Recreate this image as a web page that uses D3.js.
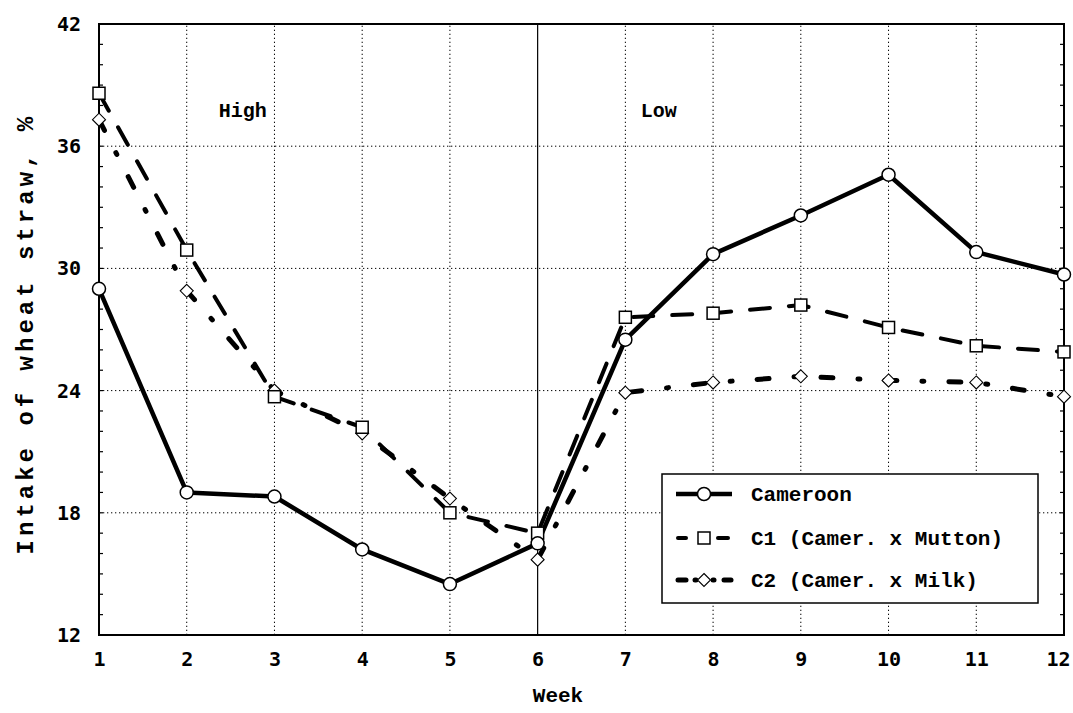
<!DOCTYPE html>
<html>
<head>
<meta charset="utf-8">
<script src="https://cdn.jsdelivr.net/npm/d3@7"></script>
<style>
  body { margin: 0; background: #fff; }
  text { font-family: "Liberation Mono", "Courier New", monospace; font-weight: bold; fill: #000; }
</style>
</head>
<body>
<svg id="chart"></svg>
<script>
// semanas e valores
const weeks = [1, 2, 3, 4, 5, 6, 7, 8, 9, 10, 11, 12];
const cameroon = [29.0, 19.0, 18.8, 16.2, 14.5, 16.5, 26.5, 30.7, 32.6, 34.6, 30.8, 29.7];
const c1 = [38.6, 30.9, 23.7, 22.2, 18.0, 17.0, 27.6, 27.8, 28.2, 27.1, 26.2, 25.9];
const c2 = [37.3, 28.9, 24.0, 21.9, 18.7, 15.7, 23.9, 24.4, 24.7, 24.5, 24.4, 23.7];
const seriesNames = ["Cameroon", "C1 (Camer. x Mutton)", "C2 (Camer. x Milk)"];
const yTicks = [12, 18, 24, 30, 36, 42];
const periods = [{ label: "High", week: 2.64 }, { label: "Low", week: 7.38 }];

const W = 1073, H = 713;
const margin = { top: 24, right: 9, bottom: 78, left: 99 };

const svg = d3.select("#chart")
    .attr("width", W)
    .attr("height", H);

const x = d3.scaleLinear().domain([1, 12]).range([margin.left, W - margin.right]);
const y = d3.scaleLinear().domain([12, 42]).range([H - margin.bottom, margin.top]);

// grade pontilhada
svg.append("g")
    .selectAll("line")
    .data(weeks.slice(1, -1).filter(w => w !== 6))
    .enter().append("line")
    .attr("x1", d => x(d)).attr("x2", d => x(d))
    .attr("y1", y(12)).attr("y2", y(42))
    .attr("stroke", "#000").attr("stroke-width", 1)
    .attr("stroke-dasharray", "1.3,2.7");

svg.append("g")
    .selectAll("line")
    .data(yTicks.slice(1, -1))
    .enter().append("line")
    .attr("x1", x(1)).attr("x2", x(12))
    .attr("y1", d => y(d)).attr("y2", d => y(d))
    .attr("stroke", "#000").attr("stroke-width", 1)
    .attr("stroke-dasharray", "1.3,2.7");

// linha que separa High / Low
svg.append("line")
    .attr("x1", x(6)).attr("x2", x(6))
    .attr("y1", y(12)).attr("y2", y(42))
    .attr("stroke", "#000").attr("stroke-width", 1.2);

// eixos
const axisLeft = d3.axisLeft(y).tickValues(yTicks).tickSize(0).tickPadding(18);
const gy = svg.append("g").attr("transform", `translate(${margin.left},0)`).call(axisLeft);
gy.select(".domain").remove();
gy.selectAll("text").style("font-family", "'DejaVu Sans Mono', monospace").style("font-size", "20px").style("font-weight", "bold");

const axisBottom = d3.axisBottom(x).tickValues(weeks).tickSize(0).tickPadding(17);
const gx = svg.append("g").attr("transform", `translate(0,${H - margin.bottom})`).call(axisBottom);
gx.select(".domain").remove();
gx.selectAll("text").style("font-family", "'DejaVu Sans Mono', monospace").style("font-size", "20px").style("font-weight", "bold");
// o ultimo rotulo encosta na borda
gx.selectAll("text").filter(d => d === 12).attr("dx", -6);

// ticks menores no eixo y (esquerda e direita)
const minor = d3.range(13, 42);
svg.append("g").selectAll("line").data(minor).enter().append("line")
    .attr("x1", x(1)).attr("x2", x(1) + 4)
    .attr("y1", d => y(d)).attr("y2", d => y(d))
    .attr("stroke", "#000").attr("stroke-width", 1.2);
svg.append("g").selectAll("line").data(minor).enter().append("line")
    .attr("x1", x(12)).attr("x2", x(12) - 4)
    .attr("y1", d => y(d)).attr("y2", d => y(d))
    .attr("stroke", "#000").attr("stroke-width", 1.2);

// moldura
svg.append("rect")
    .attr("x", x(1)).attr("y", y(42))
    .attr("width", x(12) - x(1)).attr("height", y(12) - y(42))
    .attr("fill", "none").attr("stroke", "#000").attr("stroke-width", 2);

// rotulos High / Low
svg.selectAll(".period")
    .data(periods)
    .enter().append("text")
    .attr("class", "period")
    .attr("x", d => x(d.week))
    .attr("y", 117)
    .attr("text-anchor", "middle")
    .style("font-size", "20px")
    .text(d => d.label);

// series
const series = [
    { name: seriesNames[0], values: cameroon, dash: null, width: 4.5, marker: "circle" },
    { name: seriesNames[1], values: c1, dash: "20,19", width: 4, marker: "square" },
    { name: seriesNames[2], values: c2, dash: "12,25,2,25", width: 5, marker: "diamond" }
];

const line = d3.line()
    .x((d, i) => x(weeks[i]))
    .y(d => y(d));

function drawMarker(g, type, cx, cy) {
    if (type === "circle") {
        g.append("circle").attr("cx", cx).attr("cy", cy).attr("r", 6.5)
            .attr("fill", "#fff").attr("stroke", "#000").attr("stroke-width", 1.5);
    } else if (type === "square") {
        g.append("rect").attr("x", cx - 6).attr("y", cy - 6).attr("width", 12).attr("height", 12)
            .attr("fill", "#fff").attr("stroke", "#000").attr("stroke-width", 1.5);
    } else {
        const s = 6.5;
        g.append("path").attr("d", `M${cx},${cy - s}L${cx + s},${cy}L${cx},${cy + s}L${cx - s},${cy}Z`)
            .attr("fill", "#fff").attr("stroke", "#000").attr("stroke-width", 1.1);
    }
}

series.slice().reverse().forEach(s => {
    svg.append("path")
        .datum(s.values)
        .attr("d", line)
        .attr("fill", "none")
        .attr("stroke", "#000")
        .attr("stroke-width", s.width)
        .attr("stroke-linecap", s.dash ? "round" : "butt")
        .attr("stroke-linejoin", "round")
        .attr("stroke-dasharray", s.dash);
});
series.slice().reverse().forEach(s => {
    const g = svg.append("g");
    s.values.forEach((v, i) => drawMarker(g, s.marker, x(weeks[i]), y(v)));
});

// legenda
const lg = svg.append("g").attr("transform", "translate(662,474)");
lg.append("rect").attr("width", 376).attr("height", 129)
    .attr("fill", "#fff").attr("stroke", "#000").attr("stroke-width", 1.5);

const rows = [20, 64, 106];
series.forEach((s, i) => {
    const ry = rows[i];
    if (i === 0) {
        lg.append("line").attr("x1", 14).attr("x2", 70).attr("y1", ry).attr("y2", ry)
            .attr("stroke", "#000").attr("stroke-width", 4.5);
    } else if (i === 1) {
        [[16, 24], [56, 66]].forEach(p => lg.append("line")
            .attr("x1", p[0]).attr("x2", p[1]).attr("y1", ry).attr("y2", ry)
            .attr("stroke", "#000").attr("stroke-width", 4).attr("stroke-linecap", "round"));
    } else {
        [[16, 24], [33, 34], [51, 52], [62, 69]].forEach(p => lg.append("line")
            .attr("x1", p[0]).attr("x2", p[1]).attr("y1", ry).attr("y2", ry)
            .attr("stroke", "#000").attr("stroke-width", 5).attr("stroke-linecap", "round"));
    }
    drawMarker(lg, s.marker, 42, ry);
    lg.append("text")
        .attr("x", 89).attr("y", ry)
        .attr("dy", "0.35em")
        .style("font-size", "21px")
        .text(s.name);
});

// titulos dos eixos
svg.append("text")
    .attr("x", 558).attr("y", 702)
    .attr("text-anchor", "middle")
    .style("font-size", "21px")
    .text("Week");

svg.append("text")
    .attr("transform", `translate(33,${y(26.8)}) rotate(-90)`)
    .attr("text-anchor", "middle")
    .style("font-size", "24px")
    .style("letter-spacing", "4px")
    .text("Intake of wheat straw, %");
</script>
</body>
</html>
